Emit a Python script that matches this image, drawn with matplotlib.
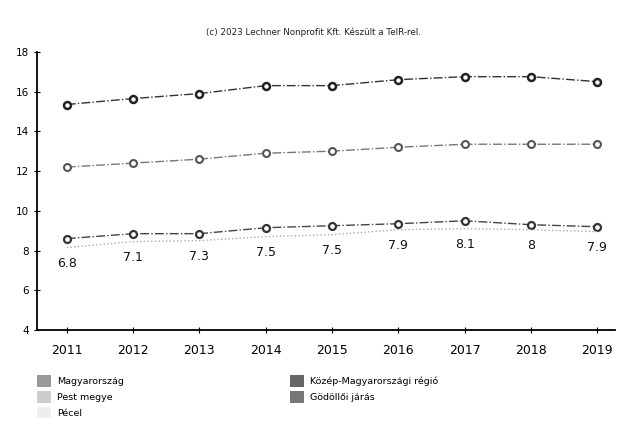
import matplotlib
matplotlib.use('Agg')
import matplotlib.pyplot as plt
from matplotlib.patches import Patch

# adatok
years = [2011, 2012, 2013, 2014, 2015, 2016, 2017, 2018, 2019]
kozep_mo = [15.35, 15.65, 15.9, 16.3, 16.3, 16.6, 16.75, 16.75, 16.5]
pest_megye = [12.2, 12.4, 12.6, 12.9, 13.0, 13.2, 13.35, 13.35, 13.35]
magyarorszag = [8.6, 8.85, 8.85, 9.15, 9.25, 9.35, 9.5, 9.3, 9.2]
godollo = [8.15, 8.45, 8.5, 8.7, 8.8, 9.05, 9.1, 9.05, 8.95]
pecel = [6.8, 7.1, 7.3, 7.5, 7.5, 7.9, 8.1, 8, 7.9]

fig = plt.figure(figsize=(6.27, 4.32), dpi=100)
ax = fig.add_axes([0.059, 0.236, 0.922, 0.644])

ax.plot(years, kozep_mo, color='#333333', lw=1, ls='-.', marker='o', ms=5,
        mfc='white', mec='#222222', mew=1.8)
ax.plot(years, pest_megye, color='#777777', lw=1, ls='-.', marker='o', ms=5,
        mfc='white', mec='#555555', mew=1.5)
ax.plot(years, magyarorszag, color='#444444', lw=1, ls='-.', marker='o', ms=5,
        mfc='white', mec='#333333', mew=1.6)
ax.plot(years, godollo, color='#aaaaaa', lw=1, ls=':')

for x, y, v in zip(years, godollo, pecel):
    ax.annotate('%g' % v, (x, y), xytext=(0, -7), textcoords='offset points',
                ha='center', va='top', fontsize=9, color='#111111')

ax.set_xlim(2010.55, 2019.27)
ax.set_ylim(4, 18)
ax.set_xticks(years)
ax.set_yticks([4, 6, 8, 10, 12, 14, 16, 18])
ax.tick_params(axis='x', labelsize=9, length=4, direction='inout', pad=8)
ax.tick_params(axis='y', labelsize=7.5, length=4, direction='inout')
ax.spines['top'].set_visible(False)
ax.spines['right'].set_visible(False)
ax.spines['left'].set_linewidth(1.3)
ax.spines['bottom'].set_linewidth(1.3)

fig.text(0.5, 0.918, '(c) 2023 Lechner Nonprofit Kft. Készült a TeIR-rel.',
         ha='center', fontsize=6.3, color='#222222')

handles = [Patch(fc='#999999', ec='none', label='Magyarország'),
           Patch(fc='#cccccc', ec='none', label='Pest megye'),
           Patch(fc='#eeeeee', ec='none', label='Pécel'),
           Patch(fc='#666666', ec='none', label='Közép-Magyarországi régió'),
           Patch(fc='#777777', ec='none', label='Gödöllői járás')]
fig.legend(handles=handles, ncol=2, loc='upper left', bbox_to_anchor=(0.055, 0.138),
           frameon=False, fontsize=6.8, handlelength=1.5, handleheight=1.5,
           columnspacing=17.6, labelspacing=0.45, handletextpad=0.6,
           borderaxespad=0, borderpad=0.3)

fig.savefig('out.png', dpi=100)
